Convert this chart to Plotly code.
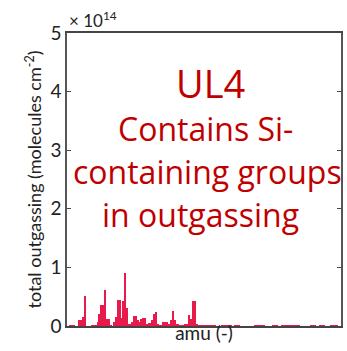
import plotly.graph_objects as go

# amu channels and total outgassing (units of 1e14 molecules cm^-2)
amu = list(range(1, 151))
vals_main = [
    0.0, 0.01, 0.01, 0.01, 0.0, 0.0, 0.11, 0.11, 0.16, 0.52,   # 1-10
    0.0, 0.0, 0.0, 0.01, 0.01, 0.01, 0.07, 0.2, 0.35, 0.35,    # 11-20
    0.62, 0.125, 0.125, 0.01, 0.0, 0.07, 0.15, 0.44, 0.44, 0.13,  # 21-30
    0.42, 0.91, 0.30, 0.04, 0.04, 0.06, 0.17, 0.17, 0.10, 0.06,   # 31-40
    0.125, 0.14, 0.14, 0.04, 0.05, 0.05, 0.11, 0.2, 0.24, 0.04,   # 41-50
    0.01, 0.01, 0.06, 0.07, 0.07, 0.04, 0.10, 0.26, 0.1, 0.02,    # 51-60
    0.04, 0.01, 0.01, 0.01, 0.02, 0.02, 0.18, 0.12, 0.42, 0.42,   # 61-70
    0.04, 0.01, 0.015, 0.015, 0.015, 0.015, 0.015, 0.015, 0.015, 0.015,  # 71-80
    0.015, 0.0, 0.0, 0.0, 0.015, 0.015, 0.015, 0.015, 0.015, 0.015,  # 81-90
    0.0, 0.015, 0.015, 0.015, 0.0, 0.0, 0.0, 0.0, 0.0, 0.0,       # 91-100
    0.0, 0.0, 0.015, 0.015, 0.015, 0.015, 0.015, 0.015, 0.0, 0.0,  # 101-110
    0.0, 0.0, 0.015, 0.015, 0.015, 0.0, 0.0, 0.015, 0.015, 0.015,  # 111-120
    0.015, 0.015, 0.015, 0.015, 0.015, 0.015, 0.015, 0.0, 0.0, 0.0,  # 121-130
    0.0, 0.0, 0.0, 0.015, 0.015, 0.015, 0.0, 0.0, 0.015, 0.015,    # 131-140
    0.015, 0.0, 0.0, 0.0, 0.015, 0.015, 0.015, 0.015, 0.0, 0.0,    # 141-150
]
scale = 1e14
y_vals = [v * scale for v in vals_main]

ytick_vals = [0, 1e14, 2e14, 3e14, 4e14, 5e14]
ytick_text = ["0", "1", "2", "3", "4", "5"]

text_color = "#C00000"
font_family = "Lato, 'Open Sans', sans-serif"
red_font = "'Open Sans', Lato, sans-serif"

fig = go.Figure()
fig.add_trace(go.Bar(
    x=amu, y=y_vals, width=1,
    marker=dict(color="#E8194B", line=dict(width=0)),
))

fig.update_layout(
    width=347, height=351,
    margin=dict(l=67, r=4, t=33, b=25),
    paper_bgcolor="white", plot_bgcolor="white",
    showlegend=False, bargap=0,
    font=dict(family=font_family, color="#222", size=15),
    xaxis=dict(
        range=[0, 150], showticklabels=False, ticks="",
        showline=True, linecolor="#444", linewidth=1.5, mirror=True,
        showgrid=False, zeroline=False,
        title=dict(text="amu (-)", font=dict(size=19, color="#222"), standoff=0),
    ),
    yaxis=dict(
        range=[0, 5e14], tickvals=ytick_vals, ticktext=ytick_text,
        ticks="inside", ticklen=4, tickcolor="#444",
        showline=True, linecolor="#555", linewidth=1.5, mirror="ticks",
        showgrid=False, zeroline=False,
        tickfont=dict(size=19, color="#222"),
        title=dict(text="total outgassing (molecules cm<sup>-2</sup>)",
                   font=dict(size=18, color="#222"), standoff=4),
    ),
    annotations=[
        dict(text="× 10<sup>14</sup>", xref="paper", yref="paper", x=0.0, y=1.0,
             xanchor="left", yanchor="bottom", showarrow=False,
             font=dict(size=17, color="#222")),
        dict(text="UL4", xref="paper", yref="paper", x=0.522, y=0.828,
             xanchor="center", yanchor="middle", showarrow=False,
             font=dict(family=red_font, size=38, color=text_color)),
        dict(text="Contains Si-", xref="paper", yref="paper", x=0.504, y=0.674,
             xanchor="center", yanchor="middle", showarrow=False,
             font=dict(family=red_font, size=32, color=text_color)),
        dict(text="containing groups", xref="paper", yref="paper", x=0.511, y=0.526,
             xanchor="center", yanchor="middle", showarrow=False,
             font=dict(family=red_font, size=32, color=text_color)),
        dict(text="in outgassing", xref="paper", yref="paper", x=0.486, y=0.379,
             xanchor="center", yanchor="middle", showarrow=False,
             font=dict(family=red_font, size=32, color=text_color)),
    ],
)

fig.write_html("out.html")
